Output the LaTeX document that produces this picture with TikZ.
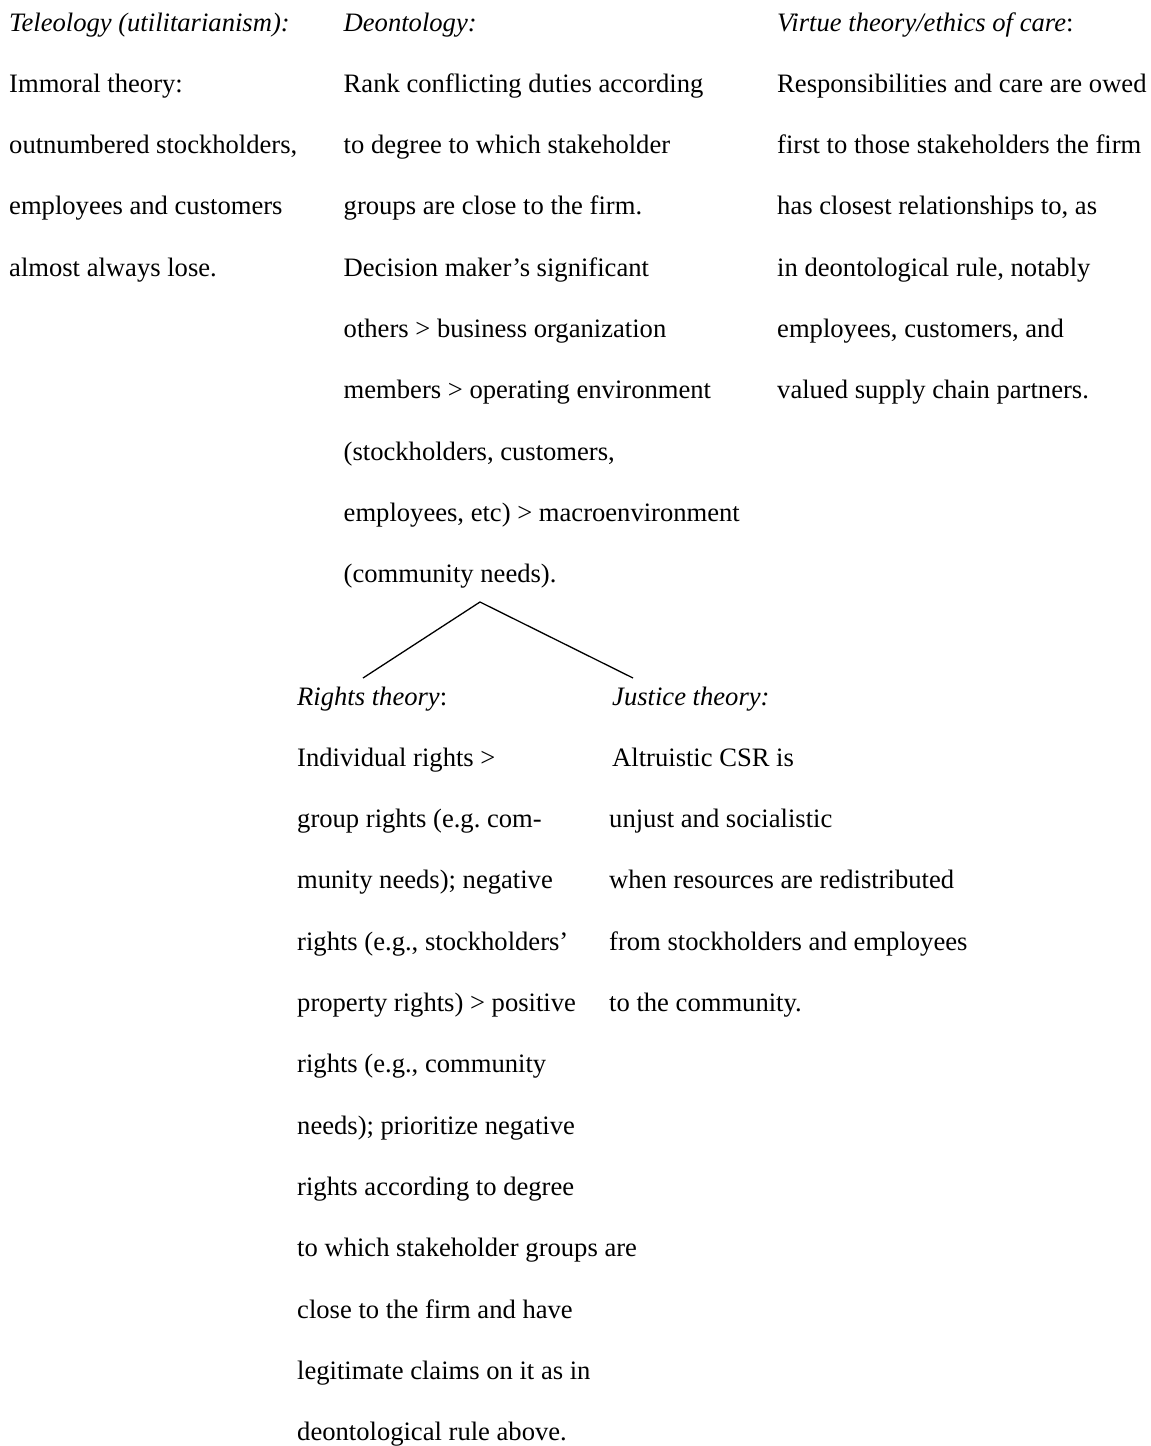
\documentclass[tikz,border=0pt]{standalone}
\usepackage{fontspec}
\setmainfont{Liberation Serif}

\begin{document}
\begin{tikzpicture}[x=1pt,y=-1pt,
  theory/.style={anchor=base west,inner sep=0pt,align=left,
    font=\fontsize{26.6}{61.3}\selectfont},
  branch/.style={line width=1.3pt}]
  \useasboundingbox (0,0) rectangle (1151,1446);
  % top row (placed at the baseline of the last line)
  \node[theory] (tele) at (9,276.2) {\textit{Teleology (utilitarianism):}\\
    Immoral theory:\\ outnumbered stockholders,\\
    employees and customers\\ almost always lose.};
  \node[theory] (deon) at (343.5,582.7) {\textit{Deontology:}\\
    Rank conflicting duties according\\ to degree to which stakeholder\\
    groups are close to the firm.\\ Decision maker’s significant\\
    others > business organization\\ members > operating environment\\
    (stockholders, customers,\\ employees, etc) > macroenvironment\\
    (community needs).};
  \node[theory] (virt) at (777,398.8) {\textit{Virtue theory/ethics of care}:\\
    Responsibilities and care are owed\\ first to those stakeholders the firm\\
    has closest relationships to, as\\ in deontological rule, notably\\
    employees, customers, and\\ valued supply chain partners.};
  % bottom row
  \node[theory] (rights) at (297,1440.6) {\textit{Rights theory}:\\
    Individual rights >\\ group rights (e.g.\ com-\\
    munity needs); negative\\ rights (e.g., stockholders’\\
    property rights) > positive\\ rights (e.g., community\\
    needs); prioritize negative\\ rights according to degree\\
    to which stakeholder groups are\\ close to the firm and have\\
    legitimate claims on it as in\\ deontological rule above.};
  \node[theory] (just) at (609,1011.5) {\hspace*{3pt}\textit{Justice theory:}\\
    \hspace*{3pt}Altruistic CSR is\\ unjust and socialistic\\
    when resources are redistributed\\ from stockholders and employees\\
    to the community.};
  % branches
  \coordinate (apex) at (480,602);
  \coordinate (rtop) at (363,678);
  \coordinate (jtop) at (633,678);
  \draw[branch] (rtop) -- (apex) -- (jtop);
\end{tikzpicture}
\end{document}
